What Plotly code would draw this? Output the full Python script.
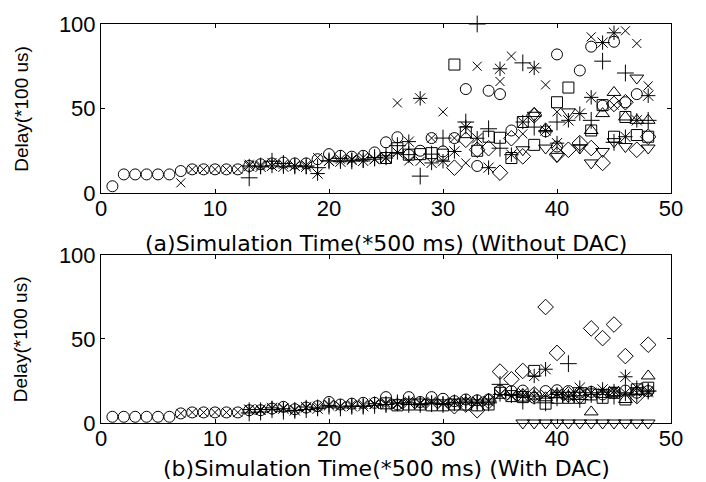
import plotly.graph_objects as go

# ---------------- (a) Without DAC ----------------
a_circle_t = [1,2,3,4,5,6,7,8,9,10,11,12,13,14,15,16,17,18,19,20,21,22,23,24,25,26,27,28,29,30,31,32,33,34,35,36,39,40,40,42,43,44,45,46,47]
a_circle_v = [4,11,11,11,11,11,13,14,14,14,14,14,16,17,17.5,18,17.5,17.5,20,23,22,21.5,22,24,30,33,22.6,25,32.5,24.6,32.5,61.5,16,60.5,58.5,37,36.5,82,27.5,72.5,86.6,51.7,89.5,53.7,58.5]

a_x_t = [7,8,9,10,11,12,13,14,15,16,17,18,19,20,21,22,23,24,25,26,27,28,29,30,31,32,33,35,36,37,39,40,43,45,46,47,48]
a_x_v = [6,14,14,14,14,14,17,16.5,18,17,16,16.5,21,19,20,20,21,20,21,53.3,19,18.8,32.5,48,32.5,17.8,75,66,81,35,64,48,92.4,52,96,88.5,63.4]

a_plus_t = [13,14,15,16,17,18,19,20,21,22,23,24,25,26,27,28,29,30,32,33,34,35,37,38,40,42,43,44,45,46,48]
a_plus_v = [9,16,18.8,17.5,16,16,15,19,20.5,19,20,21,22,28,22.7,10,23,32.5,42,100,38,26.5,77,39,42,28.5,43,78,30,71,43]

a_star_t = [13,14,15,16,17,18,19,20,21,22,23,24,25,26,27,28,29,30,31,32,33,34,35,36,37,38,39,40,41,42,43,44,45,46,47,48]
a_star_v = [16,15.5,16,15.5,16,15.5,11.5,19,18.5,19.5,19,20,20.7,24,30.4,56,17.8,18.8,24.6,39,32.4,15,73.5,22.7,42,74,37,29.5,43,47,56.6,89,94.8,33.3,43,57.6]

a_square_t = [25,26,27,28,29,30,31,32,33,34,35,36,37,38,40,41,43,44,45,46,47,48]
a_square_v = [20.7,26.5,22.7,23,23.6,22.7,76,36,25,33.3,32.7,20.7,42,28.5,53.7,62.4,37,52,33.3,45,34.3,33.3]

a_diamond_t = [31,32,33,34,35,36,37,38,40,41,42,43,44,45,46,47,48]
a_diamond_v = [15,31.5,25.6,26.5,12,32.4,21.7,46,22.7,25.6,29.5,26.6,17.8,52.7,53.7,25.6,33.3]

a_triup_t = [38,39,43,44,45,46,47,48]
a_triup_v = [47,38,37,47,59.5,45,43,43]

a_tridown_t = [37,38,39,40,41,42,43,44,45,46,47,48]
a_tridown_v = [25.6,46,26.6,21.7,48,26.6,17.8,24.6,30.4,27.5,68,26.6]

# ---------------- (b) With DAC ----------------
b_circle_t = list(range(1, 49))
b_circle_v = [3.7,3.7,3.7,3.7,3.7,3.7,5.7,6.3,6.3,6.3,6.3,6.3,7.6,7.6,8.6,9.6,8.2,9.2,10,12.5,11,11.5,12,12,
              15.4,11,15.4,12.5,15.4,14.4,13,14,13.5,14,19.3,19,19.3,15,19,19.5,19,18,18.5,17,18,19.3,18,19]

b_x_t = list(range(7, 49))
b_x_v = [5.7,6.3,6.3,6.3,6.3,6.3,8,7.5,8.6,9,8,9,10,11,10,11,11,11,12,11,13,12,13,12,12.5,13,13,13,
         17,16,18,16,17,17.5,16,17,18,18,17,18,18,18]

b_plus_t = list(range(13, 49))
b_plus_v = [6,6.5,8,7,7.5,8,9,10,9,10,10,10.5,11,12,11,11,11.5,11,12,12,12,12,23,17,13,16,12,15,35.3,14,17,17,16,18,17,19]

b_star_t = list(range(13, 49))
b_star_v = [8,8,9,8.5,7.5,9.5,8.5,10.5,10,10,10,11.5,11,11.5,12,11.5,12,11.5,12,13,12.5,13,17,16.4,16,28,32,17,16,21,18,20,19,27.5,21,19]

b_square_t = list(range(25, 49))
b_square_v = [11.7,10.5,11,11,10.5,10.5,11,11,10.5,11,18,16,15.4,31,11.5,15,15,15,17,15,18,14,20,21]

b_diamond_t = list(range(31, 49))
b_diamond_v = [10,11,7.6,13,30.6,26,31,17,69,41.7,17,16,56.3,50.5,58.6,39.8,16,46.6]

b_triup_t = list(range(37, 49))
b_triup_v = [17,16,15,17,16,18,6.6,17,18,14,19,28]

b_tridown_t = list(range(37, 49))
b_tridown_v = [0,0,0,0,0,0,0,0,0,0,0,0]

x_ticks = [0, 10, 20, 30, 40, 50]
y_ticks = [0, 50, 100]
title_a = "(a)Simulation Time(*500 ms) (Without DAC)"
title_b = "(b)Simulation Time(*500 ms) (With DAC)"
y_title = "Delay(*100 us)"

symbols = {
    "circle": ("circle-open", 11),
    "x": ("x-thin-open", 9),
    "plus": ("cross-thin-open", 12),
    "star": ("asterisk-open", 12),
    "square": ("square-open", 11),
    "diamond": ("diamond-open", 12),
    "triup": ("triangle-up-open", 12),
    "tridown": ("triangle-down-open", 12),
}

panel_a = {
    "circle": (a_circle_t, a_circle_v), "x": (a_x_t, a_x_v), "plus": (a_plus_t, a_plus_v),
    "star": (a_star_t, a_star_v), "square": (a_square_t, a_square_v), "diamond": (a_diamond_t, a_diamond_v),
    "triup": (a_triup_t, a_triup_v), "tridown": (a_tridown_t, a_tridown_v),
}
panel_b = {
    "circle": (b_circle_t, b_circle_v), "x": (b_x_t, b_x_v), "plus": (b_plus_t, b_plus_v),
    "star": (b_star_t, b_star_v), "square": (b_square_t, b_square_v), "diamond": (b_diamond_t, b_diamond_v),
    "triup": (b_triup_t, b_triup_v), "tridown": (b_tridown_t, b_tridown_v),
}

fig = go.Figure()
for panel, (xa, ya) in ((panel_a, ("x", "y")), (panel_b, ("x2", "y2"))):
    for key, (t, v) in panel.items():
        sym, size = symbols[key]
        fig.add_trace(go.Scatter(
            x=t, y=v, mode="markers", xaxis=xa, yaxis=ya, showlegend=False,
            cliponaxis=False,
            marker=dict(symbol=sym, size=size, color="black",
                        line=dict(color="black", width=1)),
        ))

tick_font = dict(family="Liberation Sans, Arial, sans-serif", size=22, color="black")
axis_common = dict(showline=True, linecolor="black", linewidth=1, mirror="ticks",
                   ticks="inside", ticklen=4, tickcolor="black", tickwidth=1,
                   showgrid=False, zeroline=False, tickfont=tick_font)

fig.update_layout(
    width=706, height=482,
    margin=dict(l=101, r=35, t=17, b=59),
    paper_bgcolor="white", plot_bgcolor="white",
    xaxis=dict(domain=[0, 1], range=[0, 50], tickvals=x_ticks, anchor="y", ticklabelstandoff=-4, **axis_common),
    yaxis=dict(domain=[0.5764, 1], range=[0, 100], tickvals=y_ticks, anchor="x", **axis_common),
    xaxis2=dict(domain=[0, 1], range=[0, 50], tickvals=x_ticks, anchor="y2", ticklabelstandoff=-4, **axis_common),
    yaxis2=dict(domain=[0, 0.4212], range=[0, 100], tickvals=y_ticks, anchor="x2", **axis_common),
)

title_font = dict(family="DejaVu Sans, sans-serif", size=22, color="black")
ytitle_font = dict(family="Liberation Sans, Arial, sans-serif", size=19, color="black")
fig.add_annotation(text=title_a, xref="paper", yref="paper", x=0.5, y=0.450,
                   xanchor="center", yanchor="middle", showarrow=False, font=title_font)
fig.add_annotation(text=title_b, xref="paper", yref="paper", x=0.5, y=-0.1135,
                   xanchor="center", yanchor="middle", showarrow=False, font=title_font)
fig.add_annotation(text=y_title, xref="paper", yref="paper", x=-0.14, y=0.788,
                   xanchor="center", yanchor="middle", showarrow=False, textangle=-90, font=ytitle_font)
fig.add_annotation(text=y_title, xref="paper", yref="paper", x=-0.14, y=0.2106,
                   xanchor="center", yanchor="middle", showarrow=False, textangle=-90, font=ytitle_font)

fig.write_html("out.html")
